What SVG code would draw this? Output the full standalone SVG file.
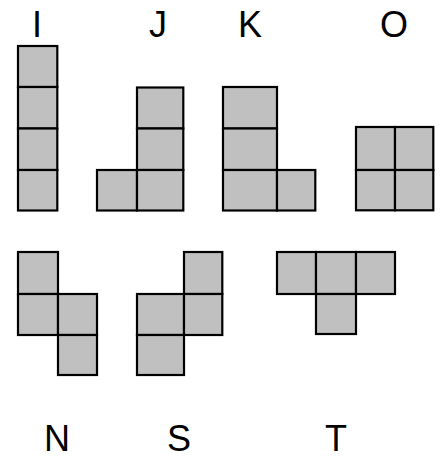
<svg xmlns="http://www.w3.org/2000/svg" width="444" height="459" viewBox="0 0 444 459">
<style>
.c{fill:#c0c0c0;stroke:#000;stroke-width:2.2}
.l{font-family:"Liberation Sans",Arial,sans-serif;font-size:36px;fill:#000;text-anchor:middle}
</style>
<rect width="444" height="459" fill="#fff"/>
<g id="piece-I">
<rect class="c" x="18" y="46" width="39.3" height="41"/>
<rect class="c" x="18" y="87" width="39.3" height="41.5"/>
<rect class="c" x="18" y="128.5" width="39.3" height="41.5"/>
<rect class="c" x="18" y="170" width="39.3" height="40.5"/>
<text class="l" x="37" y="37">I</text>
</g>
<g id="piece-J">
<rect class="c" x="97" y="170" width="40" height="40.5"/>
<rect class="c" x="137" y="87.5" width="46.3" height="41"/>
<rect class="c" x="137" y="128.5" width="46.3" height="41.5"/>
<rect class="c" x="137" y="170" width="46.3" height="40.5"/>
<text class="l" x="158" y="37">J</text>
</g>
<g id="piece-K">
<rect class="c" x="223" y="87" width="54" height="41.5"/>
<rect class="c" x="223" y="128.5" width="54" height="41.5"/>
<rect class="c" x="223" y="170" width="54" height="40.5"/>
<rect class="c" x="277" y="170" width="38.3" height="40.5"/>
<text class="l" x="250" y="37">K</text>
</g>
<g id="piece-O">
<rect class="c" x="356" y="127" width="39" height="43"/>
<rect class="c" x="395" y="127" width="38.3" height="43"/>
<rect class="c" x="356" y="170" width="39" height="40.3"/>
<rect class="c" x="395" y="170" width="38.3" height="40.3"/>
<text class="l" x="394" y="37">O</text>
</g>
<g id="piece-N">
<rect class="c" x="18" y="252" width="40" height="42"/>
<rect class="c" x="18" y="294" width="40" height="41"/>
<rect class="c" x="58" y="294" width="39" height="41"/>
<rect class="c" x="58" y="335" width="39" height="40"/>
<text class="l" x="57" y="451">N</text>
</g>
<g id="piece-S">
<rect class="c" x="184" y="252" width="38.3" height="42"/>
<rect class="c" x="137" y="294" width="47" height="41"/>
<rect class="c" x="184" y="294" width="38.3" height="41"/>
<rect class="c" x="137" y="335" width="47" height="40"/>
<text class="l" x="179" y="451">S</text>
</g>
<g id="piece-T">
<rect class="c" x="277" y="252" width="39" height="42"/>
<rect class="c" x="316" y="252" width="40" height="42"/>
<rect class="c" x="356" y="252" width="39" height="42"/>
<rect class="c" x="316" y="294" width="40" height="40"/>
<text class="l" x="336" y="451">T</text>
</g>
<g id="connectors"/>
</svg>
